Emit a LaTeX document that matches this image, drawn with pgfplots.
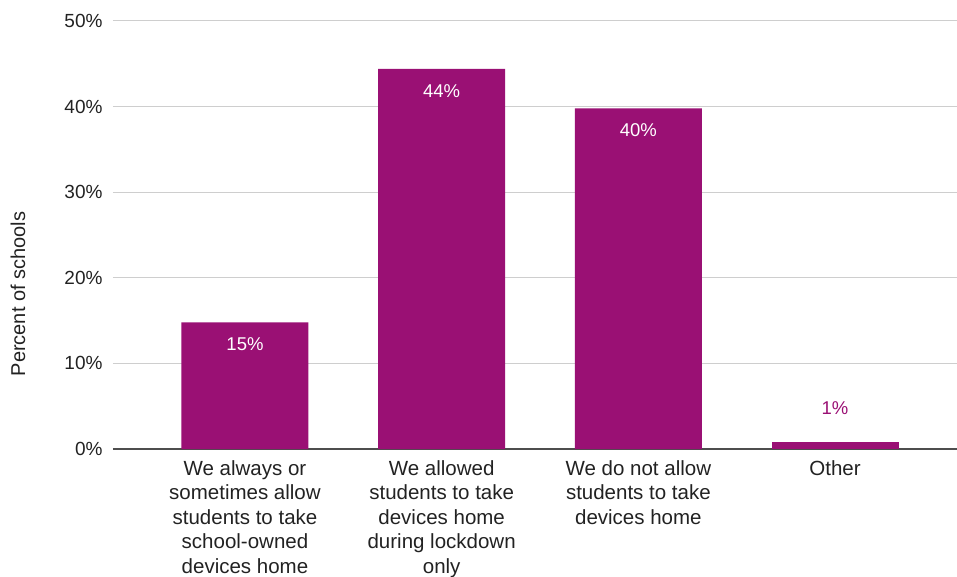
\documentclass[border=0pt]{standalone}
\usepackage{fontspec}
\setmainfont{Liberation Sans}
\usepackage{pgfplots}
\pgfplotsset{compat=1.18}
\definecolor{barpurple}{RGB}{154,16,116}
\definecolor{gridgray}{RGB}{206,206,206}
\definecolor{textgray}{RGB}{34,34,34}
\begin{document}
\begin{tikzpicture}[font=\fontsize{19bp}{25bp}\selectfont]
\begin{axis}[
  at={(0,0)}, anchor=south west,
  scale only axis, width=844bp, height=428bp,
  xmin=-0.671, xmax=3.62, ymin=0, ymax=50,
  axis line style={draw=none},
  major tick length=0pt,
  ytick={0,10,20,30,40,50},
  yticklabel={\pgfmathprintnumber{\tick}\%},
  /pgf/number format/assume math mode=true,
  ymajorgrids, grid style={gridgray, line width=1bp},
  extra y ticks={0}, extra y tick labels={},
  extra y tick style={grid style={textgray!80, line width=1.3bp}},
  yticklabel style={xshift=-7bp, text=textgray},
  xtick={0,1,2,3},
  xticklabels={{We always or\\sometimes allow\\students to take\\school-owned\\devices home},
               {We allowed\\students to take\\devices home\\during lockdown\\only},
               {We do not allow\\students to take\\devices home},
               {Other}},
  xticklabel style={align=center, anchor=north, text=textgray, yshift=-8bp,
    font=\fontsize{20.5bp}{24.5bp}\selectfont},
  ylabel={Percent of schools},
  ylabel style={at={(rel axis cs:-0.1126,0.362)}, anchor=center, text=textgray,
    font=\fontsize{20bp}{24bp}\selectfont},
]
\addplot[ybar, bar shift=0pt, bar width=127bp, fill=barpurple, draw=none,
  nodes near coords, point meta=explicit symbolic,
  every node near coord/.style={white, anchor=center, yshift=-22bp, font=\fontsize{18.5bp}{22bp}\selectfont}]
  coordinates {(0,14.8) [15\%] (1,44.4) [44\%] (2,39.8) [40\%]};
\addplot[ybar, bar shift=0pt, bar width=127bp, fill=barpurple, draw=none,
  nodes near coords, point meta=explicit symbolic,
  every node near coord/.style={text=barpurple, anchor=center, yshift=34bp, font=\fontsize{18.5bp}{22bp}\selectfont}]
  coordinates {(3,0.8) [1\%]};
\end{axis}
\pgfresetboundingbox
\useasboundingbox (-113bp,-128bp) rectangle (844bp,449bp);
\end{tikzpicture}
\end{document}
